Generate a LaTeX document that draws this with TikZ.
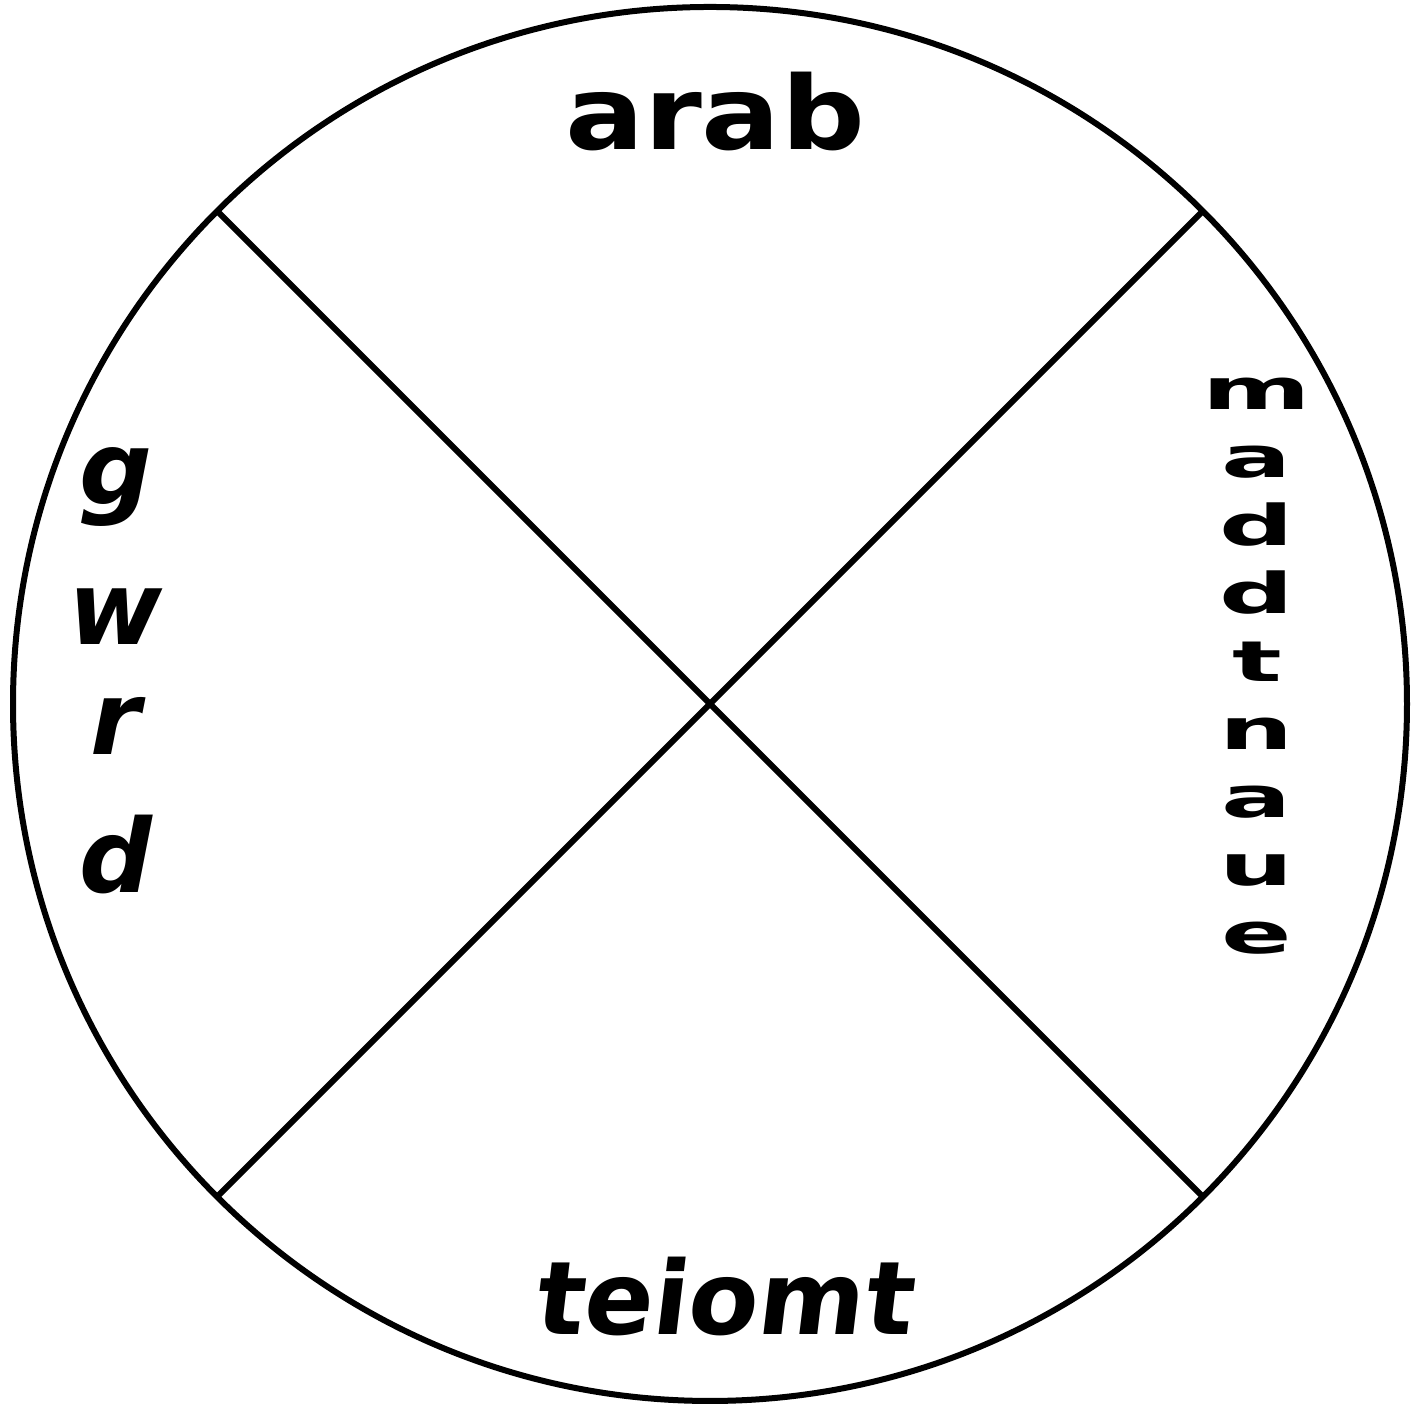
\documentclass[tikz,border=0pt]{standalone}
\usepackage{fontspec}
\setmainfont{DejaVu Sans}
\usetikzlibrary{positioning}

\begin{document}
\begin{tikzpicture}[x=1cm,y=1cm,
    rim/.style={line width=0.06cm},
    word/.style={font=\bfseries\fontsize{29}{29}\selectfont,inner sep=0pt,anchor=base},
    rightletter/.style={font=\bfseries\fontsize{16}{16}\selectfont,inner sep=0pt,anchor=base,xscale=1.85,transform shape},
    leftletter/.style={font=\bfseries\itshape\fontsize{29}{29}\selectfont,inner sep=0pt,anchor=base}]
      \useasboundingbox (0,0) rectangle (14.19,14.04);
      \coordinate (c) at (7.10,7.00);
      \draw[rim] (c) circle (6.97);
      \path (c) ++(45:6.97) coordinate (ne) (c) ++(135:6.97) coordinate (nw)
            (c) ++(225:6.97) coordinate (sw) (c) ++(315:6.97) coordinate (se);
      \draw[rim] (nw)--(se);
      \draw[rim] (sw)--(ne);
      \node[word,xscale=1.15,transform shape] (arab) at (7.15,12.54) {arab};
      \node[word,xslant=0.12,transform shape] (teiomt) at (7.22,0.69) {teiomt};
      \foreach \l [count=\i] in {m,a,d,d,t,n,a,u,e}
        \node[rightletter] (r\i) at (12.57,{14.04-4.10-0.68*(\i-1)}) {\l};
      \foreach \l/\y [count=\i] in {g/5.05,w/6.45,r/7.55,d/8.93}
        \node[leftletter] (l\i) at (1.16,{14.04-\y}) {\l};
    \end{tikzpicture}
\end{document}
